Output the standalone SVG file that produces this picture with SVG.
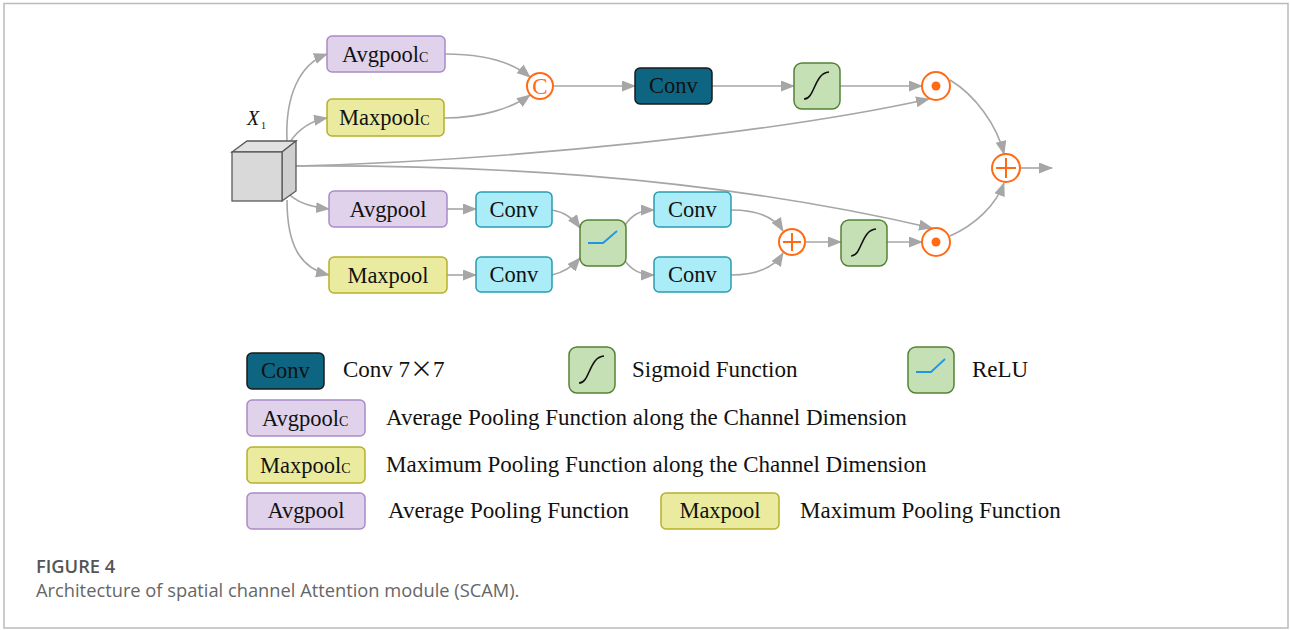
<svg xmlns="http://www.w3.org/2000/svg" width="1290" height="630" viewBox="0 0 1290 630">
<defs>
<marker id="arr" markerUnits="userSpaceOnUse" markerWidth="14" markerHeight="12" refX="13" refY="5.5" orient="auto">
<path d="M0,0 L14,5.5 L0,11 z" fill="#a6a6a6"/>
</marker>
<style>
.t{font-family:"Liberation Serif","Times New Roman",serif;font-size:22.5px;fill:#111;}
.lt{font-family:"Liberation Serif","Times New Roman",serif;font-size:23px;fill:#111;}
.sub{font-size:14px;}
.purple{fill:#dfd2ea;stroke:#a98bc8;stroke-width:1.5;}
.yellow{fill:#ebeb9f;stroke:#b5b02a;stroke-width:1.5;}
.cyan{fill:#aaedf9;stroke:#2b9cae;stroke-width:1.5;}
.dark{fill:#0e6581;stroke:#1a1a1a;stroke-width:1.5;}
.green{fill:#c5e0b4;stroke:#548235;stroke-width:1.5;}
.op{fill:#fff;stroke:#ff6a13;stroke-width:2;}
.sig{fill:none;stroke:#111;stroke-width:1.6;}
.relu{fill:none;stroke:#1e96e6;stroke-width:1.8;}
.c path{fill:none;stroke:#a6a6a6;stroke-width:1.6;marker-end:url(#arr);}
.cap{font-family:"Open Sans","Noto Sans",sans-serif;font-size:18.3px;fill:#666;}
</style>
</defs>
<rect x="4" y="3.5" width="1284" height="624.5" fill="#fff" stroke="#bbb" stroke-width="1.5"/>

<g class="c" id="connectors">
<path d="M287,141 C285,95 300,64 327,54"/>
<path d="M290,142 C298,130 310,121 327,118"/>
<path d="M296,166 C520,160 780,132 929,99"/>
<path d="M296,166 C460,165 690,172 932,228"/>
<path d="M288,193 C296,202 310,207 329,209"/>
<path d="M287,200 C287,245 300,268 329,275"/>
<path d="M445,54 C485,54 512,62 530,77"/>
<path d="M444,118 C482,118 512,108 530,95"/>
<path d="M553,86 L635,86"/>
<path d="M712,86 L794,86"/>
<path d="M840,86 L922,86"/>
<path d="M950,80 C975,95 997,125 1004,154"/>
<path d="M950,236 C975,225 996,205 1004,183"/>
<path d="M1020,168 L1052,168"/>
<path d="M447,209 L476,209"/>
<path d="M447,275 L476,275"/>
<path d="M552,210 C565,212 573,218 580,228"/>
<path d="M552,275 C565,272 573,266 580,258"/>
<path d="M625,225 C632,215 640,210 654,210"/>
<path d="M625,261 C632,270 640,275 654,275"/>
<path d="M731,210 C758,210 775,218 783,231"/>
<path d="M731,275 C758,275 775,266 783,253"/>
<path d="M806,242 L841,242"/>
<path d="M887,242 L922,242"/>
</g>

<g id="x1">
<polygon points="232,152 247,141 296,141 282,152" fill="#e2e2e2" stroke="#595959" stroke-width="1.3"/>
<polygon points="282,152 296,141 296,191 282,201" fill="#cfcfcf" stroke="#595959" stroke-width="1.3"/>
<rect x="232" y="152" width="50" height="49" fill="#d9d9d9" stroke="#595959" stroke-width="1.3"/>
<text x="247" y="125" style="font-family:'Liberation Serif',serif;font-size:20px;font-style:italic;fill:#111">X</text>
<text x="261" y="129" style="font-family:'Liberation Serif',serif;font-size:10px;fill:#111">1</text>
</g>

<g id="avgpoolc"><rect class="purple" x="327" y="36" width="118" height="36" rx="5"/><text class="t" x="342" y="62">Avgpool<tspan class="sub">C</tspan></text></g>
<g id="maxpoolc"><rect class="yellow" x="327" y="99" width="117" height="37" rx="5"/><text class="t" x="339" y="125">Maxpool<tspan class="sub">C</tspan></text></g>
<g id="concat"><circle class="op" cx="540" cy="86" r="13"/><text x="540" y="94" text-anchor="middle" style="font-family:'Liberation Serif',serif;font-size:23px;fill:#ff6a13">C</text></g>
<g id="conv7"><rect class="dark" x="635" y="68" width="77" height="36" rx="5"/><text class="t" x="673.5" y="93" text-anchor="middle">Conv</text></g>
<g id="sig1"><rect class="green" x="794" y="63" width="46" height="46" rx="8"/><path class="sig" d="M804,99 C815,99 814,73 829,72"/></g>
<g id="mul1"><circle class="op" cx="936" cy="86" r="14"/><circle cx="936" cy="86" r="4.5" fill="#ff6a13"/></g>
<g id="add1"><circle class="op" cx="1006" cy="168" r="14"/><path d="M996,168 H1016 M1006,158 V178" stroke="#ff6a13" stroke-width="2"/></g>

<g id="avgpool"><rect class="purple" x="329" y="191" width="118" height="36" rx="5"/><text class="t" x="388" y="217" text-anchor="middle">Avgpool</text></g>
<g id="maxpool"><rect class="yellow" x="329" y="257" width="118" height="36" rx="5"/><text class="t" x="388" y="283" text-anchor="middle">Maxpool</text></g>
<g id="conva"><rect class="cyan" x="476" y="192" width="76" height="35" rx="5"/><text class="t" x="514" y="217" text-anchor="middle">Conv</text></g>
<g id="convm"><rect class="cyan" x="476" y="257" width="76" height="35" rx="5"/><text class="t" x="514" y="282" text-anchor="middle">Conv</text></g>
<g id="relu"><rect class="green" x="580" y="220" width="46" height="46" rx="8"/><path class="relu" d="M588,243 L603,243 L617,231"/></g>
<g id="conv2a"><rect class="cyan" x="654" y="192" width="77" height="35" rx="5"/><text class="t" x="692.5" y="217" text-anchor="middle">Conv</text></g>
<g id="conv2b"><rect class="cyan" x="654" y="257" width="77" height="35" rx="5"/><text class="t" x="692.5" y="282" text-anchor="middle">Conv</text></g>
<g id="add2"><circle class="op" cx="792" cy="242" r="13"/><path d="M783,242 H801 M792,233 V251" stroke="#ff6a13" stroke-width="2"/></g>
<g id="sig2"><rect class="green" x="841" y="220" width="46" height="46" rx="8"/><path class="sig" d="M851,256 C862,256 861,230 876,229"/></g>
<g id="mul2"><circle class="op" cx="936" cy="242" r="14"/><circle cx="936" cy="242" r="4.5" fill="#ff6a13"/></g>

<g id="legend">
<rect class="dark" x="247" y="353" width="77" height="36" rx="5"/><text class="t" x="285.5" y="378" text-anchor="middle">Conv</text>
<text class="lt" x="343" y="377">Conv 7<tspan style="font-family:'Noto Sans CJK SC','Liberation Serif',sans-serif">×</tspan>7</text>
<rect class="green" x="569" y="347" width="46" height="46" rx="8"/><path class="sig" d="M579,383 C590,383 589,357 604,356"/>
<text class="lt" x="632" y="377">Sigmoid Function</text>
<rect class="green" x="908" y="347" width="46" height="46" rx="8"/><path class="relu" d="M916,372 L931,372 L945,359"/>
<text class="lt" x="972" y="377">ReLU</text>
<rect class="purple" x="247" y="400" width="118" height="36" rx="5"/><text class="t" x="262" y="426">Avgpool<tspan class="sub">C</tspan></text>
<text class="lt" x="386" y="425">Average Pooling Function along the Channel Dimension</text>
<rect class="yellow" x="247" y="447" width="118" height="36" rx="5"/><text class="t" x="260" y="473">Maxpool<tspan class="sub">C</tspan></text>
<text class="lt" x="386" y="472">Maximum Pooling Function along the Channel Dimension</text>
<rect class="purple" x="247" y="493" width="118" height="36" rx="5"/><text class="t" x="306" y="518" text-anchor="middle">Avgpool</text>
<text class="lt" x="388" y="518">Average Pooling Function</text>
<rect class="yellow" x="661" y="493" width="118" height="36" rx="5"/><text class="t" x="720" y="518" text-anchor="middle">Maxpool</text>
<text class="lt" x="800" y="518">Maximum Pooling Function</text>
</g>

<text class="cap" x="36" y="573" style="font-weight:600;fill:#555">FIGURE 4</text>
<text class="cap" x="36" y="597">Architecture of spatial channel Attention module (SCAM).</text>
</svg>
